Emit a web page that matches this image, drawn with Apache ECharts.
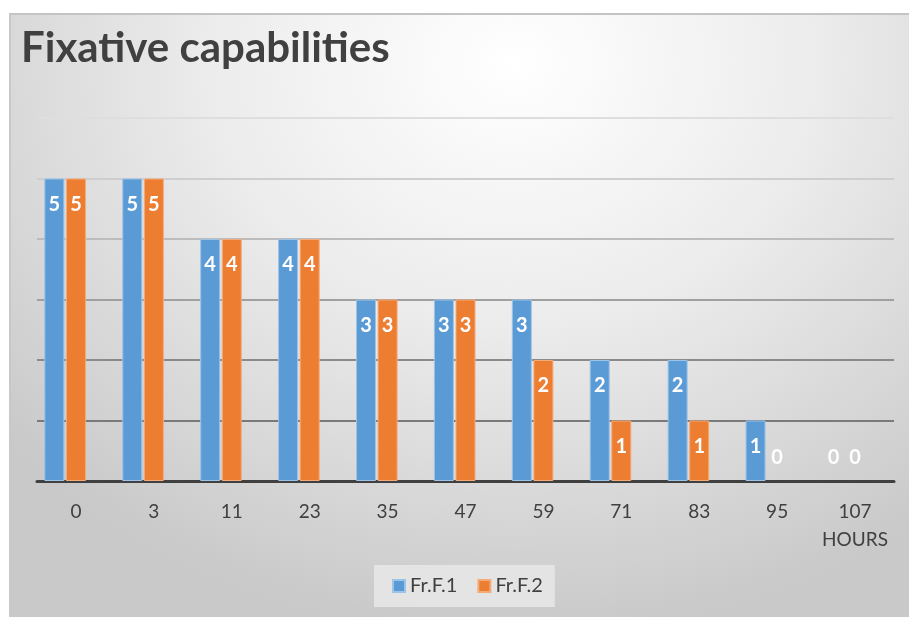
<!DOCTYPE html>
<html>
<head>
<meta charset="utf-8">
<script src="https://cdn.jsdelivr.net/npm/echarts@6/dist/echarts.min.js"></script>
<style>
  html, body { margin: 0; padding: 0; background: #fff; }
  #panel {
    position: absolute; left: 9px; top: 13px; width: 900px; height: 604px;
    box-sizing: border-box;
    border-top: 2px solid #c4c4c4; border-left: 2px solid #c8c8c8;
    background: radial-gradient(ellipse 75% 95% at 56% 8%, #ffffff 0%, #ececec 45%, #c9c9c9 100%);
  }
  #chart { position: absolute; left: 0; top: 0; width: 909px; height: 617px; }
</style>
</head>
<body>
<div id="panel"></div>
<div id="chart"></div>
<script>
  const titleText = 'Fixative capabilities';
  const hours = ['0', '3', '11', '23', '35', '47', '59', '71', '83', '95', '107'];
  const axisName = 'HOURS';
  const seriesNames = ['Fr.F.1', 'Fr.F.2'];
  const frF1 = [5, 5, 4, 4, 3, 3, 3, 2, 2, 1, 0];
  const frF2 = [5, 5, 4, 4, 3, 3, 2, 1, 1, 0, 0];

  const chart = echarts.init(document.getElementById('chart'));

  // zero values: no visible bar, label sits above the baseline like the original
  function withLabels(values) {
    return values.map(v => v === 0
      ? { value: v, itemStyle: { color: 'transparent', borderWidth: 0 }, label: { position: 'top', distance: 13 } }
      : v);
  }

  const labelStyle = {
    show: true,
    position: 'insideTop',
    distance: 16,
    color: '#fff',
    fontFamily: 'Lato',
    fontWeight: 'bold',
    fontSize: 20
  };

  const option = {
    animation: false,
    backgroundColor: 'transparent',
    title: {
      text: titleText,
      left: 16,
      top: 22,
      textStyle: { fontFamily: 'Lato', fontWeight: 'bold', fontSize: 42, color: '#404040' }
    },
    legend: {
      data: seriesNames,
      left: 374,
      top: 565,
      padding: [11, 12, 11, 18],
      itemGap: 20,
      itemWidth: 12,
      itemHeight: 12,
      icon: 'rect',
      backgroundColor: 'rgba(232,232,232,0.85)',
      textStyle: { fontFamily: 'Lato', fontSize: 20, color: '#404040' }
    },
    grid: { left: 37, right: 15, top: 118, bottom: 136 },
    xAxis: {
      type: 'category',
      data: hours,
      axisLine: { lineStyle: { color: '#404040', width: 3 } },
      axisTick: { show: false },
      axisLabel: {
        interval: 0,
        margin: 17,
        color: '#404040',
        fontFamily: 'Lato',
        fontSize: 19,
        lineHeight: 28,
        formatter: (v, i) => i === hours.length - 1 ? v + '\n' + axisName : v
      }
    },
    yAxis: {
      type: 'value',
      min: 0,
      max: 6,
      interval: 1,
      axisLabel: { show: false },
      axisLine: { show: false },
      axisTick: { show: false },
      splitLine: {
        lineStyle: {
          width: 2,
          color: ['#7a7a7a', '#7a7a7a', '#8a8a8a', '#a0a0a0', '#bcbcbc', '#cecece', '#dedede']
        }
      }
    },
    series: [
      {
        name: seriesNames[0],
        type: 'bar',
        barWidth: 20,
        barGap: '8%',
        data: withLabels(frF1),
        itemStyle: { color: '#5b9bd5', borderColor: '#9cc3e8', borderWidth: 1 },
        label: labelStyle
      },
      {
        name: seriesNames[1],
        type: 'bar',
        barWidth: 20,
        barGap: '8%',
        data: withLabels(frF2),
        itemStyle: { color: '#ed7d31', borderColor: '#f4ab7a', borderWidth: 1 },
        label: labelStyle
      },
      {
        // empty slot so the pair sits left of the tick label, as in the original
        name: 'spacer',
        type: 'bar',
        barWidth: 20,
        barGap: '8%',
        data: [],
        silent: true
      }
    ]
  };

  chart.setOption(option);
</script>
</body>
</html>
